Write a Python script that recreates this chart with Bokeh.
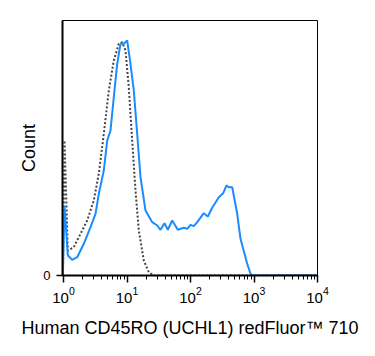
from bokeh.plotting import figure
from bokeh.models import Range1d, FixedTicker, LogTicker
from bokeh.embed import file_html
from bokeh.resources import INLINE

# ---- data (fluorescence intensity, event count) ----
stained_x = [0.975, 1.037, 1.169, 1.371, 1.643, 2.088, 2.662, 3.191, 3.596, 4.311,
             4.878, 5.498, 6.197, 7.010, 7.901, 8.906, 10.07, 11.35, 12.80, 14.47,
             16.32, 19.56, 24.94, 29.90, 33.70, 38.96, 43.90, 51.50, 63.10, 78.43,
             88.72, 100.0, 112.7, 127.5, 162.0, 187.3, 219.6, 279.1, 327.3, 368.9,
             401.0, 453.6, 543.9, 613.0, 781.5, 881.0, 947.1, 10000]
stained_y = [0, 70, 20, 15.7, 18.3, 31.7, 48.3, 61.7, 81.7, 105,
             135, 145, 178.3, 211.7, 231.7, 231.7, 235, 211.7, 185, 141.7,
             98.3, 65, 53.3, 50, 45.7, 52.3, 45.7, 55, 45.7, 47.7,
             46.7, 50.7, 49.3, 53.3, 62.3, 59, 67.7, 78.3, 82.3, 90,
             88.3, 88.3, 61.7, 36.7, 11.7, 1.7, 0, 0]

isotype_x = [0.982, 1.037, 1.169, 1.453, 1.852, 2.362, 3.000, 3.596, 4.311, 5.169,
             6.197, 7.428, 8.403, 9.471, 10.67, 12.07, 13.61, 15.34, 18.39, 22.04,
             26.42, 10000]
isotype_y = [0, 135, 25, 28.3, 41.7, 55, 75, 101.7, 141.7, 185,
             215, 231.7, 233.3, 225, 188.3, 135, 85, 45, 15, 3.3,
             0, 0]

x_title = "Human CD45RO (UCHL1) redFluor™ 710"
y_title = "Count"
y_ticks = [0]
y_tick_labels = {0: "0"}

FONT = "Liberation Sans"

p = figure(width=375, height=356, output_backend="svg", toolbar_location=None,
           x_axis_type="log",
           x_range=Range1d(10 ** (-1 / 63.5), 10000), y_range=Range1d(0, 255),
           min_border_left=62, min_border_right=58, min_border_top=20,
           min_border_bottom=81)
p.grid.visible = False
p.background_fill_color = "white"
p.border_fill_color = "white"
p.outline_line_color = "black"
p.outline_line_width = 1

# x axis
xa = p.xaxis[0]
xa.ticker = LogTicker(num_minor_ticks=10)
xa.axis_line_color = "black"
xa.axis_line_width = 2
xa.major_tick_in = 0
xa.major_tick_out = 7
xa.minor_tick_in = 0
xa.minor_tick_out = 4
xa.major_tick_line_color = "black"
xa.major_tick_line_width = 1.5
xa.minor_tick_line_color = "black"
xa.minor_tick_line_width = 1
xa.major_label_standoff = 4
xa.major_label_text_font = FONT
xa.major_label_text_font_size = "15px"
xa.major_label_text_color = "black"
xa.axis_label = x_title
xa.axis_label_text_font = FONT
xa.axis_label_text_font_size = "18px"
xa.axis_label_text_font_style = "normal"
xa.axis_label_text_color = "black"
xa.axis_label_standoff = 12

# y axis
ya = p.yaxis[0]
ya.ticker = FixedTicker(ticks=y_ticks)
ya.minor_tick_out = 0
ya.minor_tick_in = 0
ya.major_tick_in = 0
ya.major_tick_out = 6
ya.major_tick_line_width = 1.5
ya.axis_line_color = "black"
ya.axis_line_width = 2
ya.major_label_overrides = y_tick_labels
ya.major_label_standoff = 6
ya.major_label_text_font = FONT
ya.major_label_text_font_size = "13px"
ya.major_label_text_color = "black"
ya.axis_label = y_title
ya.axis_label_text_font = FONT
ya.axis_label_text_font_size = "18px"
ya.axis_label_text_font_style = "normal"
ya.axis_label_text_color = "black"
ya.axis_label_standoff = 1

# curves
p.line(isotype_x, isotype_y, line_color="#444444", line_width=2, line_dash="2 2")
p.line(stained_x, stained_y, line_color="#1a8cff", line_width=2)

open("out.html", "w").write(file_html(p, INLINE))
